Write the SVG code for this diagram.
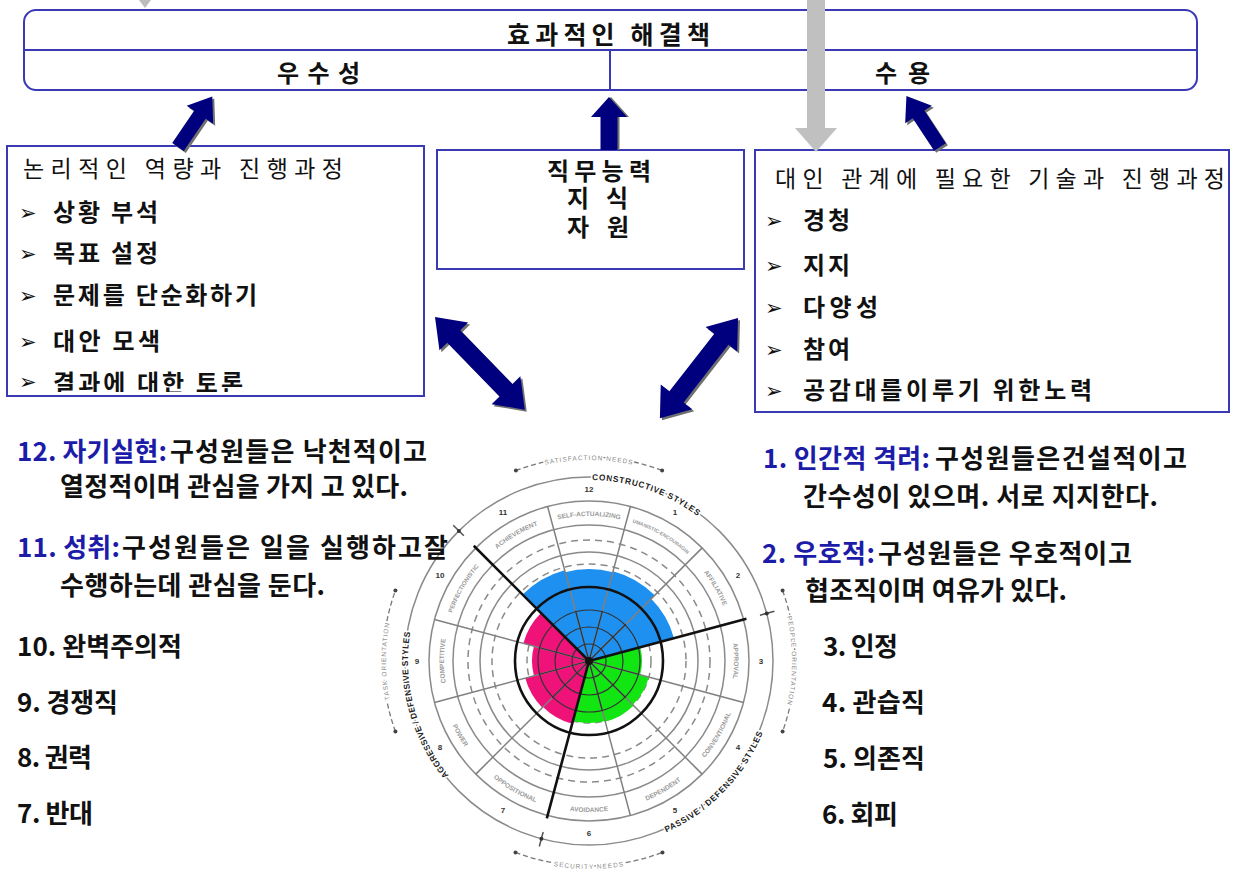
<svg xmlns="http://www.w3.org/2000/svg" xmlns:xlink="http://www.w3.org/1999/xlink" width="1233" height="872" viewBox="0 0 1233 872">
<defs>
<style>
.box{fill:none;stroke:#3a3ab4;stroke-width:2}
.kb{font-family:'Noto Sans CJK KR','Noto Sans',sans-serif;font-weight:700;fill:#111}
.kr{font-family:'Noto Sans CJK KR','Noto Sans',sans-serif;font-weight:400;fill:#111}
.s23{font-size:23px}
.s24{font-size:24px}
.s25{font-size:25px}
.s26{font-size:26px}
.blue{fill:#1c1ca8}
.bul{font-family:'DejaVu Sans',sans-serif;font-size:21px;font-weight:700;fill:#111}
.arr{fill:#00007f}
.sh{fill:#707070}
.ring{fill:none;stroke:#8a8a8a;stroke-width:1.5}
.dash{stroke-dasharray:7 5}
.lab{font-family:'Liberation Sans',sans-serif;font-weight:700;font-size:6.5px;fill:#9a9a9a;text-anchor:middle}
.num{font-family:'Liberation Sans',sans-serif;font-weight:700;font-size:8px;fill:#333;text-anchor:middle;dominant-baseline:central}
.sty{font-family:'Liberation Sans',sans-serif;font-weight:700;font-size:8.5px;fill:#222;letter-spacing:0.6px;stroke:#fff;stroke-width:3px;paint-order:stroke;text-anchor:middle}
.need{font-family:'Liberation Sans',sans-serif;font-size:6.5px;fill:#888;letter-spacing:1px;stroke:#fff;stroke-width:3px;paint-order:stroke;text-anchor:middle}
.needarc{fill:none;stroke:#777;stroke-width:1.3;stroke-dasharray:5 3}
</style>
<polygon id="sArrow" points="0,-7 39,-7 39,-16 61,0 39,16 39,7 0,7"/>
<polygon id="vArrow" points="0,-8.5 33,-8.5 33,-18 53,0 33,18 33,8.5 0,8.5"/>
<polygon id="dArrowL" points="0,0 27,-20 27,-9 102,-9 102,-20 129,0 102,20 102,9 27,9 27,20"/>
<polygon id="dArrowR" points="0,0 27,-20 27,-9 100,-9 100,-20 127,0 100,20 100,9 27,9 27,20"/>
<clipPath id="lclip"><rect x="7" y="146" width="417" height="246"/></clipPath>
<path id="l12" d="M556.38,519.72 A145,145 0 0 1 621.62,519.72"/>
<path id="l1" d="M631.39,522.34 A145,145 0 0 1 687.89,554.95"/>
<path id="l2" d="M695.05,562.11 A145,145 0 0 1 727.66,618.61"/>
<path id="l3" d="M730.28,628.38 A145,145 0 0 1 730.28,693.62"/>
<path id="l9" d="M447.72,693.62 A145,145 0 0 1 447.72,628.38"/>
<path id="l10" d="M450.34,618.61 A145,145 0 0 1 482.95,562.11"/>
<path id="l11" d="M490.11,554.95 A145,145 0 0 1 546.61,522.34"/>
<path id="l4" d="M699.43,763.98 A151,151 0 0 0 733.40,705.15"/>
<path id="l5" d="M633.15,805.40 A151,151 0 0 0 691.98,771.43"/>
<path id="l6" d="M555.03,808.13 A151,151 0 0 0 622.97,808.13"/>
<path id="l7" d="M486.02,771.43 A151,151 0 0 0 544.85,805.40"/>
<path id="l8" d="M444.60,705.15 A151,151 0 0 0 478.57,763.98"/>
<path id="pCon" d="M576.37,480.44 A181,181 0 0 1 710.11,526.49"/>
<path id="pPas" d="M647.10,839.80 A188,188 0 0 0 769.72,712.82"/>
<path id="pAgg" d="M463.27,791.20 A181,181 0 0 1 415.01,611.11"/>
<path id="pSat" d="M520.25,472.12 A201,201 0 0 1 657.75,472.12"/>
<path id="pSec" d="M517.86,856.46 A208,208 0 0 0 660.14,856.46"/>
<path id="pTask" d="M395.94,723.73 A203,203 0 0 1 395.94,598.27"/>
<path id="pPeop" d="M782.06,598.27 A203,203 0 0 1 782.06,723.73"/>
</defs>
<rect width="1233" height="872" fill="#fff"/>

<g id="top-box">
<rect x="24" y="10" width="1173" height="80" rx="12" class="box"/>
<line x1="24" y1="50" x2="1197" y2="50" class="box"/>
<line x1="610" y1="50" x2="610" y2="90" class="box"/>
<text x="507" y="44" textLength="203" class="kb s25">효과적인 해결책</text>
<text x="277" y="82" textLength="83" class="kb s24">우수성</text>
<text x="875" y="82" textLength="55" class="kb s24">수용</text>
</g>

<g id="box-logic">
<rect x="7" y="146" width="417" height="250" class="box"/>
<text x="23" y="177" textLength="320" class="kr s23">논리적인 역량과 진행과정</text>
<text class="kb s24"><tspan x="19" y="220" class="bul">➢</tspan><tspan x="53" y="221" textLength="105">상황 부석</tspan></text>
<text class="kb s24"><tspan x="19" y="261" class="bul">➢</tspan><tspan x="53" y="262" textLength="105">목표 설정</tspan></text>
<text class="kb s24"><tspan x="19" y="303" class="bul">➢</tspan><tspan x="53" y="304" textLength="204">문제를 단순화하기</tspan></text>
<text class="kb s24"><tspan x="19" y="349" class="bul">➢</tspan><tspan x="53" y="350" textLength="107">대안 모색</tspan></text>
<g clip-path="url(#lclip)"><text class="kb s24"><tspan x="19" y="389" class="bul">➢</tspan><tspan x="53" y="392" textLength="190">결과에 대한 토론</tspan></text></g>
</g>

<g id="box-job">
<rect x="437" y="150" width="307" height="119" class="box"/>
<text x="547" y="180" textLength="104" class="kb s24">직무능력</text>
<text x="567" y="207" textLength="61" class="kb s24">지식</text>
<text x="567" y="236" textLength="62" class="kb s24">자원</text>
</g>

<g id="box-inter">
<rect x="755" y="150" width="474" height="262" class="box"/>
<text x="775" y="187" textLength="450" class="kr s23">대인 관계에 필요한 기술과 진행과정</text>
<text class="kb s24"><tspan x="765" y="228" class="bul">➢</tspan><tspan x="803" y="229" textLength="47">경청</tspan></text>
<text class="kb s24"><tspan x="765" y="273" class="bul">➢</tspan><tspan x="803" y="274" textLength="47">지지</tspan></text>
<text class="kb s24"><tspan x="765" y="315" class="bul">➢</tspan><tspan x="803" y="316" textLength="75">다양성</tspan></text>
<text class="kb s24"><tspan x="765" y="357" class="bul">➢</tspan><tspan x="803" y="358" textLength="47">참여</tspan></text>
<text class="kb s24"><tspan x="765" y="398" class="bul">➢</tspan><tspan x="803" y="399" textLength="289">공감대를이루기 위한노력</tspan></text>
</g>

<g id="connectors">
<polygon points="139,0 151,0 145,8" fill="#bdbdbd"/>
<rect x="807" y="0" width="18" height="130" fill="#c0c0c0"/>
<polygon points="795,128 837,128 816,152" fill="#c0c0c0"/>
<use xlink:href="#sArrow" transform="translate(180,149) rotate(-55.8)" class="sh"/>
<use xlink:href="#sArrow" transform="translate(178,147) rotate(-55.8)" class="arr"/>
<use xlink:href="#vArrow" transform="translate(611,150) rotate(-90)" class="sh"/>
<use xlink:href="#vArrow" transform="translate(609,150) rotate(-90)" class="arr"/>
<use xlink:href="#sArrow" transform="translate(942,149) rotate(-123.4)" class="sh"/>
<use xlink:href="#sArrow" transform="translate(940,147) rotate(-123.4)" class="arr"/>
<use xlink:href="#dArrowL" transform="translate(437,319) rotate(45.9)" class="sh"/>
<use xlink:href="#dArrowL" transform="translate(435,317) rotate(45.9)" class="arr"/>
<use xlink:href="#dArrowR" transform="translate(740,320) rotate(127.95)" class="sh"/>
<use xlink:href="#dArrowR" transform="translate(738,318) rotate(127.95)" class="arr"/>
</g>

<g id="circumplex">
<path class="needarc" d="M515.89,470.55 A204,204 0 0 1 662.11,470.55"/>
<path class="needarc" d="M515.53,852.38 A205,205 0 0 0 662.47,852.38"/>
<path class="needarc" d="M395.42,731.46 A206,206 0 0 1 395.42,590.54"/>
<path class="needarc" d="M782.58,590.54 A206,206 0 0 1 782.58,731.46"/>
<g fill="#444">
<circle cx="515.89" cy="470.55" r="2"/><circle cx="662.11" cy="470.55" r="2"/>
<circle cx="515.53" cy="852.38" r="2"/><circle cx="662.47" cy="852.38" r="2"/>
<circle cx="395.42" cy="731.46" r="2"/><circle cx="395.42" cy="590.54" r="2"/>
<circle cx="782.58" cy="590.54" r="2"/><circle cx="782.58" cy="731.46" r="2"/>
</g>
<text class="need"><textPath xlink:href="#pSat" startOffset="50%">SATISFACTION NEEDS</textPath></text>
<text class="need"><textPath xlink:href="#pSec" startOffset="50%">SECURITY NEEDS</textPath></text>
<text class="need"><textPath xlink:href="#pTask" startOffset="50%">TASK ORIENTATION</textPath></text>
<text class="need"><textPath xlink:href="#pPeop" startOffset="50%">PEOPLE ORIENTATION</textPath></text>

<circle cx="589" cy="661" r="62" class="ring dash" stroke="#999"/>
<path fill="#1e90f0" d="M589,661 L522.53,594.53 A94,94 0 0 1 564.67,570.20 L565.19,572.14 A92,92 0 0 1 612.81,572.14 L613.07,571.17 A93,93 0 0 1 654.76,595.24 L651.23,598.77 A88,88 0 0 1 674.0,638.23 Z"/>
<path fill="#12e612" d="M589,661 L640.19,647.28 A53,53 0 0 1 640.19,674.72 L648.89,677.05 A62,62 0 0 1 632.84,704.84 L633.55,705.55 A63,63 0 0 1 605.30,721.85 L605.05,720.89 A62,62 0 0 1 572.95,720.89 Z"/>
<path fill="#ee1279" d="M589,661 L572.18,723.78 A65,65 0 0 1 543.04,706.96 L542.33,707.67 A66,66 0 0 1 525.25,678.08 L533.94,675.75 A57,57 0 0 1 533.94,646.25 L523.32,643.40 A68,68 0 0 1 540.92,612.92 Z"/>

<circle cx="589" cy="661" r="97" class="ring dash"/>
<circle cx="589" cy="661" r="109" class="ring" stroke="#9a9a9a" stroke-width="1.2"/>
<circle cx="589" cy="661" r="121" class="ring dash"/>
<circle cx="589" cy="661" r="136" class="ring"/>
<circle cx="589" cy="661" r="160" class="ring"/>
<circle cx="589" cy="661" r="184" class="ring"/>
<path fill="none" stroke="#808080" stroke-width="1.5" d="M589,661 L630.41,506.46 M589,661 L702.14,547.86 M589,661 L743.54,702.41 M589,661 L702.14,774.14 M589,661 L630.41,815.54 M589,661 L475.86,774.14 M589,661 L434.46,702.41 M589,661 L434.46,619.59 M589,661 L547.59,506.46"/>
<g fill="none" stroke="#333" stroke-width="1.2">
<circle cx="589" cy="661" r="17"/>
<circle cx="589" cy="661" r="34"/>
<circle cx="589" cy="661" r="51"/>
<path d="M589,661 L602.46,610.77 M589,661 L625.77,624.23 M589,661 L639.23,674.46 M589,661 L625.77,697.77 M589,661 L602.46,711.23 M589,661 L552.23,697.77 M589,661 L538.77,674.46 M589,661 L538.77,647.54 M589,661 L575.54,610.77"/>
</g>
<circle cx="589" cy="661" r="74" fill="none" stroke="#111" stroke-width="2.6"/>
<path fill="none" stroke="#111" stroke-width="2.6" d="M589,661 L473.74,545.74 M589,661 L746.44,618.81 M589,661 L546.81,818.44"/>
<path fill="none" stroke="#555" stroke-width="1.5" d="M463.84,535.84 L453.24,525.24 M759.97,615.19 L774.46,611.31 M543.19,831.97 L539.31,846.46"/>
<g fill="#333">
<circle cx="458.89" cy="530.89" r="2"/><circle cx="766.73" cy="613.38" r="2"/><circle cx="541.38" cy="838.73" r="2"/>
</g>
<circle cx="589" cy="661" r="4" fill="#111"/>

<text class="lab"><textPath xlink:href="#l12" startOffset="50%">SELF-ACTUALIZING</textPath></text>
<text class="lab" style="font-size:5px"><textPath xlink:href="#l1" startOffset="50%">HUMANISTIC-ENCOURAGING</textPath></text>
<text class="lab"><textPath xlink:href="#l2" startOffset="50%">AFFILIATIVE</textPath></text>
<text class="lab"><textPath xlink:href="#l3" startOffset="50%">APPROVAL</textPath></text>
<text class="lab"><textPath xlink:href="#l4" startOffset="50%">CONVENTIONAL</textPath></text>
<text class="lab"><textPath xlink:href="#l5" startOffset="50%">DEPENDENT</textPath></text>
<text class="lab"><textPath xlink:href="#l6" startOffset="50%">AVOIDANCE</textPath></text>
<text class="lab"><textPath xlink:href="#l7" startOffset="50%">OPPOSITIONAL</textPath></text>
<text class="lab"><textPath xlink:href="#l8" startOffset="50%">POWER</textPath></text>
<text class="lab"><textPath xlink:href="#l9" startOffset="50%">COMPETITIVE</textPath></text>
<text class="lab" style="font-size:6px"><textPath xlink:href="#l10" startOffset="50%">PERFECTIONISTIC</textPath></text>
<text class="lab"><textPath xlink:href="#l11" startOffset="50%">ACHIEVEMENT</textPath></text>

<text class="num" x="589" y="489">12</text>
<text class="num" x="675" y="512">1</text>
<text class="num" x="738" y="575">2</text>
<text class="num" x="761" y="661">3</text>
<text class="num" x="738" y="747">4</text>
<text class="num" x="675" y="810">5</text>
<text class="num" x="589" y="833">6</text>
<text class="num" x="503" y="810">7</text>
<text class="num" x="440" y="747">8</text>
<text class="num" x="417" y="661">9</text>
<text class="num" x="440" y="575">10</text>
<text class="num" x="503" y="512">11</text>

<text class="sty"><textPath xlink:href="#pCon" startOffset="50%">CONSTRUCTIVE STYLES</textPath></text>
<text class="sty"><textPath xlink:href="#pPas" startOffset="50%">PASSIVE / DEFENSIVE STYLES</textPath></text>
<text class="sty" style="letter-spacing:0.2px"><textPath xlink:href="#pAgg" startOffset="50%">AGGRESSIVE / DEFENSIVE STYLES</textPath></text>
</g>

<g id="left-list">
<text x="17" y="461" textLength="150" class="kb s26 blue">12. 자기실현:</text>
<text x="170" y="461" textLength="257" class="kb s26">구성원들은 낙천적이고</text>
<text x="60" y="496" textLength="348" class="kb s26">열정적이며 관심을 가지 고 있다.</text>
<text x="17" y="557" textLength="103" class="kb s26 blue">11. 성취:</text>
<text x="122" y="557" textLength="326" class="kb s26">구성원들은 일을 실행하고잘</text>
<text x="60" y="595" textLength="265" class="kb s26">수행하는데 관심을 둔다.</text>
<text x="17" y="656" textLength="165" class="kb s26">10. 완벽주의적</text>
<text x="17" y="712" textLength="101" class="kb s26">9. 경쟁직</text>
<text x="17" y="767" textLength="75" class="kb s26">8. 권력</text>
<text x="17" y="823" textLength="76" class="kb s26">7. 반대</text>
</g>

<g id="right-list">
<text x="763" y="468" textLength="167" class="kb s26 blue">1. 인간적 격려:</text>
<text x="935" y="468" textLength="252" class="kb s26">구성원들은건설적이고</text>
<text x="803" y="506" textLength="355" class="kb s26">간수성이 있으며. 서로 지지한다.</text>
<text x="762" y="563" textLength="113" class="kb s26 blue">2. 우호적:</text>
<text x="878" y="563" textLength="254" class="kb s26">구성원들은 우호적이고</text>
<text x="805" y="600" textLength="262" class="kb s26">협조직이며 여유가 있다.</text>
<text x="823" y="656" textLength="75" class="kb s26">3. 인정</text>
<text x="822" y="712" textLength="103" class="kb s26">4. 관습직</text>
<text x="823" y="768" textLength="102" class="kb s26">5. 의존직</text>
<text x="822" y="824" textLength="76" class="kb s26">6. 회피</text>
</g>
</svg>
